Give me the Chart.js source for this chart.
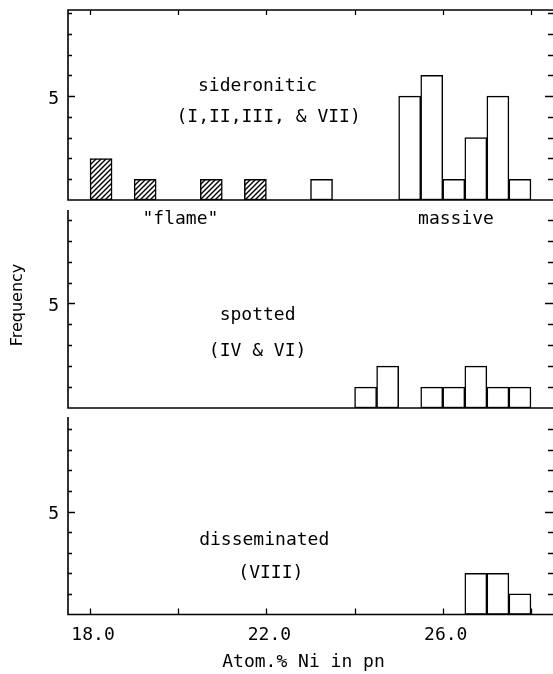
<!doctype html>
<html lang="en">
<head>
  <meta charset="UTF-8">
  <title>Atom.% Ni in pn</title>
  <script src="https://cdn.jsdelivr.net/npm/chart.js"></script>
  <style>
    body { margin: 0; background: #fff; }
    #wrap { position: relative; width: 553px; height: 674px; }
    #wrap canvas { position: absolute; left: 0; top: 0; }
  </style>
</head>
<body>
<div id="wrap">
  <canvas id="topPanel" width="553" height="674"></canvas>
  <canvas id="midPanel" width="553" height="674"></canvas>
  <canvas id="botPanel" width="553" height="674"></canvas>
</div>
<script>
  // bin centres in Atom.% Ni (bins are 0.5 wide) and counts per bin
  const topBins = [18.25, 19.25, 20.75, 21.75, 23.25, 25.25, 25.75, 26.25, 26.75, 27.25, 27.75];
  const topFreq = [2, 1, 1, 1, 1, 5, 6, 1, 3, 5, 1];
  const topFlame = [true, true, true, true, false, false, false, false, false, false, false];

  const midBins = [24.25, 24.75, 25.75, 26.25, 26.75, 27.25, 27.75];
  const midFreq = [1, 2, 1, 1, 2, 1, 1];

  const botBins = [26.75, 27.25, 27.75];
  const botFreq = [2, 2, 1];

  const xTicks = [18, 20, 22, 24, 26, 28];
  const xLabels = [18, 22, 26];
  const yTicks = [1, 2, 3, 4, 5, 6, 7, 8, 9];

  const MONO = '18px "DejaVu Sans Mono", monospace';

  // diagonal hatch for the "flame" bars
  function hatch() {
    const c = document.createElement('canvas');
    c.width = c.height = 5;
    const g = c.getContext('2d');
    g.fillStyle = '#fff';
    g.fillRect(0, 0, 5, 5);
    g.strokeStyle = '#000';
    g.lineWidth = 1.4;
    g.beginPath();
    g.moveTo(0, 5); g.lineTo(5, 0);
    g.moveTo(-1, 1); g.lineTo(1, -1);
    g.moveTo(4, 6); g.lineTo(6, 4);
    g.stroke();
    return g.createPattern(c, 'repeat');
  }

  // frame, inward ticks, labels and notes for each panel
  const framePlugin = {
    id: 'frame',
    afterDraw(chart, args, o) {
      const {ctx, chartArea: a, scales: {x, y}} = chart;
      ctx.save();
      ctx.strokeStyle = '#000';
      ctx.lineWidth = 1.6;
      ctx.beginPath();
      if (o.box) {
        ctx.moveTo(a.right, a.top);
        ctx.lineTo(a.left, a.top);
      } else {
        ctx.moveTo(a.left, a.top);
      }
      ctx.lineTo(a.left, a.bottom);
      ctx.lineTo(a.right, a.bottom);
      ctx.stroke();

      ctx.lineWidth = 1.3;
      ctx.beginPath();
      yTicks.forEach(v => {
        if (v > y.max) return;
        const py = Math.round(y.getPixelForValue(v)) + 0.5;
        const len = v === 5 ? 7 : 4;
        ctx.moveTo(a.left, py); ctx.lineTo(a.left + len, py);
        ctx.moveTo(a.right, py); ctx.lineTo(a.right - len - 1, py);
      });
      xTicks.forEach(v => {
        const px = Math.round(x.getPixelForValue(v)) + 0.5;
        if (o.box) { ctx.moveTo(px, a.top); ctx.lineTo(px, a.top + 5); }
        if (o.xAxis) { ctx.moveTo(px, a.bottom); ctx.lineTo(px, a.bottom - 6); }
      });
      ctx.stroke();

      ctx.fillStyle = '#000';
      ctx.font = MONO;
      ctx.textAlign = 'right';
      ctx.textBaseline = 'middle';
      ctx.fillText('5', a.left - 9, y.getPixelForValue(5) + 3);

      ctx.textAlign = 'center';
      ctx.textBaseline = 'alphabetic';
      (o.notes || []).forEach(n => {
        ctx.fillText(n.text, x.getPixelForValue(n.x), y.getPixelForValue(n.y));
      });

      if (o.xAxis) {
        xLabels.forEach(v => {
          ctx.fillText(v.toFixed(1), x.getPixelForValue(v) + 3, a.bottom + 25);
        });
        ctx.fillText('Atom.% Ni in pn', (a.left + a.right) / 2 - 7, 667);
      }
      if (o.yTitle) {
        ctx.font = '16px "DejaVu Sans", sans-serif';
        ctx.translate(18, 305);
        ctx.rotate(-Math.PI / 2);
        ctx.textBaseline = 'middle';
        ctx.fillText('Frequency', 0, 0);
      }
      ctx.restore();
    }
  };

  function panel(id, bins, freq, colors, yMax, padTop, padBottom, frame) {
    return new Chart(document.getElementById(id), {
      type: 'bar',
      data: {
        datasets: [{
          data: bins.map((b, i) => ({x: b, y: freq[i]})),
          backgroundColor: colors,
          borderColor: '#000',
          borderWidth: 1.5,
          borderSkipped: false,
          barPercentage: 1,
          categoryPercentage: 1
        }]
      },
      options: {
        responsive: false,
        animation: false,
        devicePixelRatio: 1,
        layout: {padding: {left: 68, right: 0, top: padTop, bottom: padBottom}},
        scales: {
          x: {
            type: 'linear', min: 17.5, max: 28.5, offset: false, display: false,
            afterBuildTicks: s => { s.ticks = xTicks.map(v => ({value: v})); }
          },
          y: {type: 'linear', min: 0, max: yMax, display: false}
        },
        plugins: {
          legend: {display: false},
          tooltip: {enabled: false},
          frame: frame
        }
      },
      plugins: [framePlugin]
    });
  }

  const hatchFill = hatch();

  panel('topPanel', topBins, topFreq, topFlame.map(f => f ? hatchFill : '#fff'), 9.15, 10, 474, {
    box: true,
    notes: [
      {text: 'sideronitic', x: 21.8, y: 5.25},
      {text: '(I,II,III, & VII)', x: 22.05, y: 3.75}
    ]
  });

  panel('midPanel', midBins, midFreq, '#fff', 9.47, 210, 266, {
    yTitle: true,
    notes: [
      {text: '"flame"', x: 20.05, y: 8.8},
      {text: 'massive', x: 26.3, y: 8.8},
      {text: 'spotted', x: 21.8, y: 4.2},
      {text: '(IV & VI)', x: 21.8, y: 2.5}
    ]
  });

  panel('botPanel', botBins, botFreq, '#fff', 9.6, 417, 59.5, {
    xAxis: true,
    notes: [
      {text: 'disseminated', x: 21.95, y: 3.4},
      {text: '(VIII)', x: 22.1, y: 1.75}
    ]
  });
</script>
</body>
</html>
